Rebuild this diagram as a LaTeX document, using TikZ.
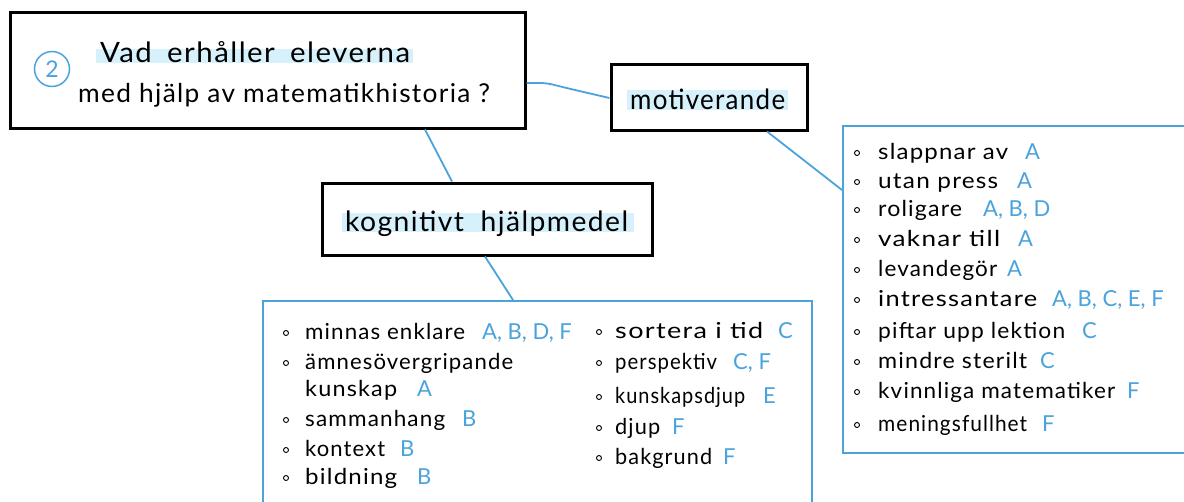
\documentclass[tikz,border=0pt]{standalone}
\usepackage{fontspec}
\setmainfont{Lato}
\newfontfamily\handA[LetterSpace=5]{Lato}
\usetikzlibrary{calc}
\definecolor{hb}{RGB}{75,163,220}
\definecolor{hl}{RGB}{214,241,251}
\newcommand\hfit[2]{\setbox0=\hbox{#2}\pgfmathsetmacro\hfr{#1/\the\wd0}\scalebox{\hfr}[1]{\box0}}
\begin{document}
\begin{tikzpicture}[x=1pt,y=-1pt,
  bigbox/.style={draw=black, line width=3pt, rectangle, inner sep=0pt},
  listbox/.style={draw=hb, line width=2pt, rectangle, inner sep=0pt},
  conn/.style={draw=hb, line width=1.8pt, rounded corners=6pt},
  hil/.style={fill=hl, draw=none},
  title/.style={anchor=base west, inner sep=0pt, font=\handA\fontsize{28}{32}\selectfont},
  item/.style={anchor=base west, inner sep=0pt, font=\handA\fontsize{22}{26}\selectfont},
  lett/.style={anchor=base west, inner sep=0pt, font=\fontsize{22}{26}\selectfont, text=hb},
  bul/.style={draw=black, line width=0.9pt, circle, inner sep=0pt, minimum size=5pt}]
\useasboundingbox (0,0) rectangle (1184,501);
\clip (0,0) rectangle (1184,501);
\fill[white] (0,0) rectangle (1184,501);

% highlights
\fill[hil] (96,49) rectangle (413,63);
\fill[hil] (627,90) rectangle (788,110);
\fill[hil] (342,213) rectangle (634,232);

% boxes
\node[bigbox, minimum width=515pt, minimum height=116pt] (big) at (267.5,70) {};
\node[bigbox, minimum width=196pt, minimum height=66pt] (mot) at (709,97) {};
\node[bigbox, minimum width=330pt, minimum height=72pt] (kog) at (487,219) {};
\node[listbox, minimum width=549pt, minimum height=219pt] (lb) at (537.5,410.5) {};
\node[listbox, minimum width=357pt, minimum height=327pt] (rb) at (1021.5,289.5) {};

% connectors
\draw[conn] ([yshift=-13pt]big.east) -- ++(20,0) -- ++(20,5) -- ([yshift=-1pt]mot.west);
\draw[conn] ([xshift=157.5pt]big.south) -- ([xshift=-35pt]kog.north);
\draw[conn] ([xshift=58pt]mot.south) -- ([yshift=99.5pt]rb.west);
\draw[conn] ([xshift=-2pt]kog.south) -- ([xshift=-24.5pt]lb.north);

% titles
\node[circle, draw=hb, line width=1.5pt, minimum size=35pt, inner sep=0pt, text=hb,
      font=\fontsize{23}{26}\selectfont] (num) at (52,69) {2};
\node[title] (q1) at (100,62) {\hfit{310}{Vad\hspace{6pt} erhåller\hspace{6pt} eleverna}};
\node[title, font=\handA\fontsize{26}{30}\selectfont] (q2) at (78,102) {\hfit{412}{med hjälp av matematikhistoria ?}};
\node[title] (tmot) at (630,109) {\hfit{155}{motiverande}};
\node[title] (tkog) at (345,231) {\hfit{283}{kognitivt\hspace{8pt} hjälpmedel}};

% right list
\foreach \t/\w/\l/\lx/\y [count=\i] in {
  slappnar av/130/A/1025/153,
  utan press/120/A/1017/182,
  roligare/84/{A, B, D}/983/210,
  vaknar till/122/A/1018/240,
  levandegör/119/A/1007/270,
  intressantare/159/{A, B, C, E, F}/1052/300,
  piftar upp lektion/187/C/1082/332,
  mindre sterilt/149/C/1040/362,
  kvinnliga matematiker/237/F/1127/392,
  meningsfullhet/149/F/1042/425}{
  \node[bul] (rbul\i) at (857,\y) {};
  \node[item] (rt\i) at (878,\y+6) {\hfit{\w}{\t}};
  \node[lett] (rl\i) at (\lx,\y+6) {\l};
}

% lower left column
\foreach \t/\w/\l/\lx/\y [count=\i] in {
  minnas enklare/160/{A, B, D, F}/482/333,
  sammanhang/140/B/462/420,
  kontext/80/B/400/450,
  bildning/92/B/417/478}{
  \node[bul] (lbul\i) at (286,\y) {};
  \node[item] (lt\i) at (305,\y+6) {\hfit{\w}{\t}};
  \node[lett] (ll\i) at (\lx,\y+6) {\l};
}
\node[bul] (lbul5) at (286,363) {};
\node[item] (lt5) at (305,369) {\hfit{208}{ämnesövergripande}};
\node[item] (lt6) at (305,396) {\hfit{92}{kunskap}};
\node[lett] (ll6) at (417,396) {A};

% lower right column
\foreach \t/\w/\l/\lx/\y [count=\i] in {
  sortera i tid/148/C/778/332,
  perspektiv/102/{C, F}/733/363,
  kunskapsdjup/130/E/763/397,
  djup/45/F/672/428,
  bakgrund/97/F/723/458}{
  \node[bul] (mbul\i) at (599,\y) {};
  \node[item] (mt\i) at (615,\y+6) {\hfit{\w}{\t}};
  \node[lett] (ml\i) at (\lx,\y+6) {\l};
}
\end{tikzpicture}
\end{document}
